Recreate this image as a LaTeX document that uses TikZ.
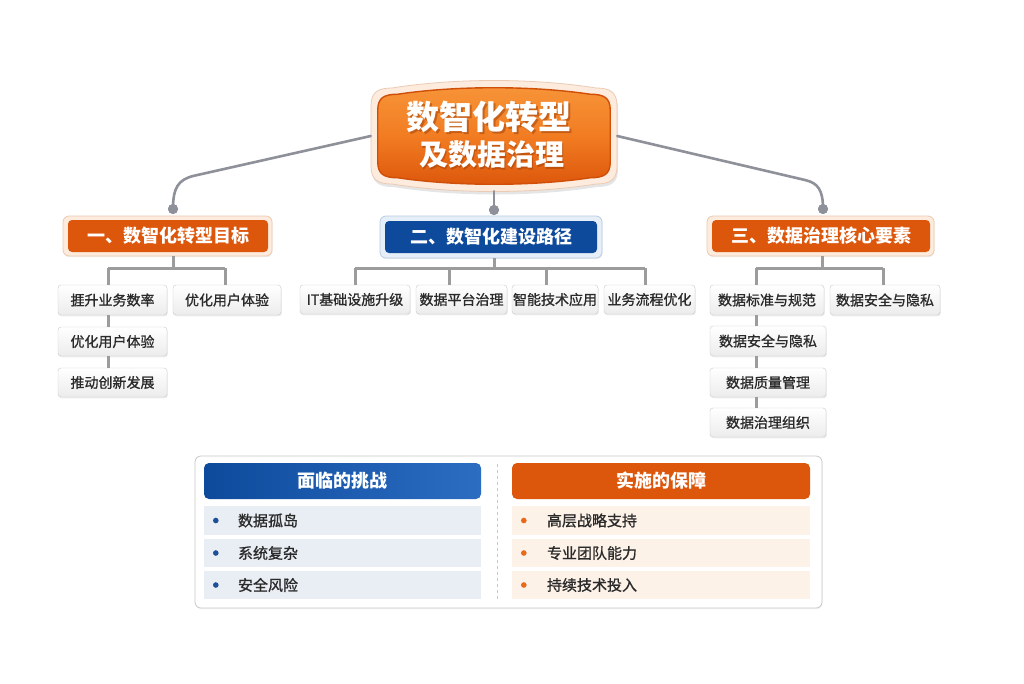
\documentclass[tikz,border=0pt]{standalone}
\usepackage{fontspec}
\setmainfont{Noto Sans CJK SC}
\newfontfamily\medfont{Noto Sans CJK SC}[FakeBold=1.0]
\usetikzlibrary{shadows,calc}
\definecolor{oD}{HTML}{DC560B}
\definecolor{oM}{HTML}{F27C22}
\definecolor{oL}{HTML}{F79438}
\definecolor{oRim}{HTML}{CF4F08}
\definecolor{ringO}{HTML}{EBCBB3}
\definecolor{ringOfill}{HTML}{FDEBDD}
\definecolor{bD}{HTML}{0D4A9C}
\definecolor{bL}{HTML}{2C6DC2}
\definecolor{ringB}{HTML}{B9CBE3}
\definecolor{ringBfill}{HTML}{E6EEF8}
\definecolor{conn}{HTML}{8E9199}
\definecolor{treeline}{HTML}{9C9C9C}
\definecolor{leafborder}{HTML}{C9C9C9}
\definecolor{leafbot}{HTML}{ECECEC}
\definecolor{leaftext}{HTML}{2A2A2A}
\definecolor{rowblue}{HTML}{E9EEF4}
\definecolor{rowpeach}{HTML}{FDF2E8}
\definecolor{bulB}{HTML}{1B4F9A}
\definecolor{bulO}{HTML}{E8691A}
\begin{document}
\begin{tikzpicture}[x=1pt,y=-1pt,
  connline/.style={draw=conn, line width=2.6pt, line cap=round},
  treel/.style={draw=treeline, line width=3pt},
  dotnode/.style={circle, fill=conn, minimum size=10pt, inner sep=0},
  leaf/.style={draw=leafborder, top color=white, bottom color=leafbot, rounded corners=3pt,
    inner sep=0, minimum height=30, text=leaftext, font=\medfont\fontsize{14}{16}\selectfont,
    drop shadow={opacity=0.13, shadow xshift=0.8pt, shadow yshift=-1.3pt}},
  ringo/.style={draw=ringO, fill=ringOfill, rounded corners=6pt, line width=0.8pt,
    drop shadow={opacity=0.12, shadow xshift=0.6pt, shadow yshift=-1.2pt}},
  ringb/.style={draw=ringB, fill=ringBfill, rounded corners=6pt, line width=0.8pt,
    drop shadow={opacity=0.12, shadow xshift=0.6pt, shadow yshift=-1.2pt}},
  hdro/.style={left color=oD, middle color=oM, right color=oD, rounded corners=4pt,
    text=white, font=\fontsize{18}{20}\selectfont\bfseries, inner sep=0},
  hdrb/.style={left color=bD, middle color=bL, right color=bD, rounded corners=4pt,
    text=white, font=\fontsize{18}{20}\selectfont\bfseries, inner sep=0},
  rowb/.style={fill=rowblue, inner sep=0, minimum width=277, minimum height=29},
  rowo/.style={fill=rowpeach, inner sep=0, minimum width=298, minimum height=29},
  rowtext/.style={anchor=west, inner sep=0, text=leaftext, font=\medfont\fontsize{15}{17}\selectfont}
]
\useasboundingbox (0,0) rectangle (1024,683);
\fill[white] (0,0) rectangle (1024,683);

% ---------- title ----------
\def\tshape{(-123,-30) .. controls (-123,-44) and (-116,-48) .. (-102,-48)
  .. controls (-40,-58) and (40,-58) .. (102,-48)
  .. controls (116,-48) and (123,-44) .. (123,-30) -- (123,30)
  .. controls (123,44) and (116,48) .. (102,48)
  .. controls (40,58) and (-40,58) .. (-102,48)
  .. controls (-116,48) and (-123,44) .. (-123,30) -- cycle}
\node[minimum width=246pt, minimum height=110pt, inner sep=0] (title) at (494,136) {};
\begin{scope}[shift={(494,136)}]
  \fill[black, opacity=0.10] [shift={(1,3)}] \tshape;
  \filldraw[fill=ringOfill, draw=ringO, line width=0.8pt] \tshape;
  \begin{scope}[xscale=0.945, yscale=0.87]
    \shade[top color=oL, bottom color=oD, middle color=oM] \tshape;
    \draw[oRim, line width=1.4pt] \tshape;
  \end{scope}
\end{scope}
\node[text=oRim!70!black, opacity=0.45, font=\fontsize{33}{38}\selectfont\bfseries] at (490.5,119) {数智化转型};
\node[text=white, font=\fontsize{33}{38}\selectfont\bfseries] (t1) at (489,117) {数智化转型};
\node[text=oRim!70!black, opacity=0.45, font=\fontsize{29}{34}\selectfont\bfseries] at (493,157) {及数据治理};
\node[text=white, font=\fontsize{29}{34}\selectfont\bfseries] (t2) at (491.5,155) {及数据治理};

% ---------- connector dots ----------
\node[dotnode] (d1) at (173,209) {};
\node[dotnode] (d2) at (494,210) {};
\node[dotnode] (d3) at (823,209) {};
\coordinate (c1) at (193,176);
\coordinate (c3) at (805,180);
\draw[connline] (title.west) -- (c1) .. controls (178,180) and (173,188) .. (d1.center);
\draw[connline] (title.east) -- (c3) .. controls (818,183) and (823,190) .. (d3.center);
\draw[connline] (title.south) -- (d2.center);
\node[dotnode] at (d1) {};
\node[dotnode] at (d2) {};
\node[dotnode] at (d3) {};

% ---------- headers ----------
\node[ringo, minimum width=209, minimum height=40] (h1o) at (167.5,236) {};
\node[hdro, minimum width=200, minimum height=32] (h1) at (168,236) {一、数智化转型目标};
\node[ringb, minimum width=222, minimum height=42] (h2o) at (491,237) {};
\node[hdrb, minimum width=212, minimum height=32] (h2) at (491,237) {二、数智化建设路径};
\node[ringo, minimum width=227, minimum height=40] (h3o) at (820.5,236) {};
\node[hdro, minimum width=218, minimum height=32] (h3) at (821,236) {三、数据治理核心要素};

% ---------- branch 1 ----------
\node[leaf, minimum width=109] (b11) at (112.5,300) {捱升业务数率};
\node[leaf, minimum width=108] (b12) at (227,300) {优化用户体验};
\node[leaf, minimum width=109, minimum height=29] (b13) at (112.5,341.5) {优化用户体验};
\node[leaf, minimum width=109, minimum height=29] (b14) at (112.5,382.5) {推动创新发展};
\coordinate (j1) at (173,268);
\coordinate (v1) at (108,0);
\coordinate (v1b) at (225,0);
\draw[treel] (h1o.south -| j1) -- (j1);
\draw[treel] (j1 -| v1) -- (j1 -| v1b);
\draw[treel] (j1 -| v1) -- (b11.north -| v1);
\draw[treel] (j1 -| v1b) -- (b12.north -| v1b);
\draw[treel] (b11.south -| v1) -- (b13.north -| v1);
\draw[treel] (b13.south -| v1) -- (b14.north -| v1);

% ---------- branch 2 ----------
\node[leaf, minimum width=110, minimum height=29] (b21) at (355,299.5) {IT基础设施升级};
\node[leaf, minimum width=91, minimum height=29] (b22) at (461.5,299.5) {数据平台治理};
\node[leaf, minimum width=86, minimum height=29] (b23) at (555,299.5) {智能技术应用};
\node[leaf, minimum width=91, minimum height=29] (b24) at (649.5,299.5) {业务流程优化};
\coordinate (j2) at (494,268);
\coordinate (v21) at (355,0);
\coordinate (v22) at (449,0);
\coordinate (v23) at (546,0);
\coordinate (v24) at (645,0);
\draw[treel] (h2o.south -| j2) -- (j2);
\draw[treel] (j2 -| v21) -- (j2 -| v24);
\draw[treel] (j2 -| v21) -- (b21.north -| v21);
\draw[treel] (j2 -| v22) -- (b22.north -| v22);
\draw[treel] (j2 -| v23) -- (b23.north -| v23);
\draw[treel] (j2 -| v24) -- (b24.north -| v24);

% ---------- branch 3 ----------
\node[leaf, minimum width=114] (b31) at (767,300) {数据标准与规范};
\node[leaf, minimum width=110] (b32) at (885,300) {数据安全与隐私};
\node[leaf, minimum width=116] (b33) at (768,341) {数据安全与隐私};
\node[leaf, minimum width=116, minimum height=29] (b34) at (768,382.5) {数据质量管理};
\node[leaf, minimum width=116, minimum height=29] (b35) at (768,422.5) {数据治理组织};
\coordinate (j3) at (822,268);
\coordinate (v3) at (756,0);
\coordinate (v3b) at (883,0);
\draw[treel] (h3o.south -| j3) -- (j3);
\draw[treel] (j3 -| v3) -- (j3 -| v3b);
\draw[treel] (j3 -| v3) -- (b31.north -| v3);
\draw[treel] (j3 -| v3b) -- (b32.north -| v3b);
\draw[treel] (b31.south -| v3) -- (b33.north -| v3);
\draw[treel] (b33.south -| v3) -- (b34.north -| v3);
\draw[treel] (b34.south -| v3) -- (b35.north -| v3);

% ---------- bottom panel ----------
\node[draw=leafborder, fill=white, rounded corners=6pt, line width=0.8pt,
  minimum width=627, minimum height=152, inner sep=0,
  drop shadow={opacity=0.10, shadow xshift=0.6pt, shadow yshift=-1.2pt}] (panel) at (508.5,532) {};
\node[left color=bD, right color=bL, rounded corners=5pt, minimum width=277, minimum height=36,
  inner sep=0, text=white, font=\fontsize{18}{20}\selectfont\bfseries] (ch) at (342.5,481) {面临的挑战};
\node[left color=oD, middle color=oM, right color=oD, rounded corners=5pt, minimum width=298, minimum height=36,
  inner sep=0, text=white, font=\fontsize{18}{20}\selectfont\bfseries] (gh) at (661,481) {实施的保障};
\draw[leafborder, dashed, line width=0.7pt] ($(panel.north)+(-11,8)$) -- ($(panel.south)+(-11,-8)$);

\node[rowb] (r1) at (342.5,520.5) {};
\node[rowb, minimum height=28] (r2) at (342.5,553) {};
\node[rowb, minimum height=28] (r3) at (342.5,585) {};
\node[rowo] (s1) at (661,520.5) {};
\node[rowo, minimum height=28] (s2) at (661,553) {};
\node[rowo, minimum height=28] (s3) at (661,585) {};

\foreach \r/\t in {r1/数据孤岛, r2/系统复杂, r3/安全风险}{
  \fill[bulB] ($(\r.west)+(12,0)$) circle (2.8);
  \node[rowtext] at ($(\r.west)+(34,0)$) {\t};
}
\foreach \r/\t in {s1/高层战略支持, s2/专业团队能力, s3/持续技术投入}{
  \fill[bulO] ($(\r.west)+(12,0)$) circle (2.8);
  \node[rowtext] at ($(\r.west)+(35,0)$) {\t};
}
\end{tikzpicture}
\end{document}
